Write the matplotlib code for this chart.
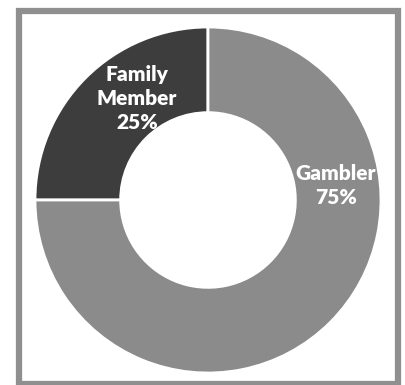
import matplotlib.pyplot as plt
from matplotlib.patches import Rectangle

# who the survey respondents were
groups = ['Family\nMember', 'Gambler']
shares = [25, 75]
colors = ['#3d3d3d', '#8b8b8b']

W, H = 406, 385
fig = plt.figure(figsize=(W / 100, H / 100), dpi=100)
fig.patch.set_facecolor('white')

# grey frame round the chart
fig.patches.append(Rectangle((19 / W, 1 / H), 379 / W, 373 / H,
                             transform=fig.transFigure, fill=False,
                             edgecolor='#8f8f8f', linewidth=4.5))

# axes box sized to the donut: centre (208, 200) px, radius 173 px
cx, cy, r = 208, 200, 173
ax = fig.add_axes([(cx - r) / W, (H - cy - r) / H, 2 * r / W, 2 * r / H])
ax.pie(shares, colors=colors, startangle=90, counterclock=True,
       wedgeprops=dict(width=0.495, edgecolor='white', linewidth=2))
ax.set_xlim(-1, 1)
ax.set_ylim(-1, 1)
ax.axis('off')

label_pos = [(-0.41, 0.585), (0.74, 0.085)]
for name, val, (x, y) in zip(groups, shares, label_pos):
    ax.text(x, y, f'{name}\n{val}%', ha='center', va='center',
            color='white', fontsize=15, fontweight='heavy',
            family='Lato', linespacing=1.3)

fig.savefig('out.png', dpi=100, facecolor='white')
